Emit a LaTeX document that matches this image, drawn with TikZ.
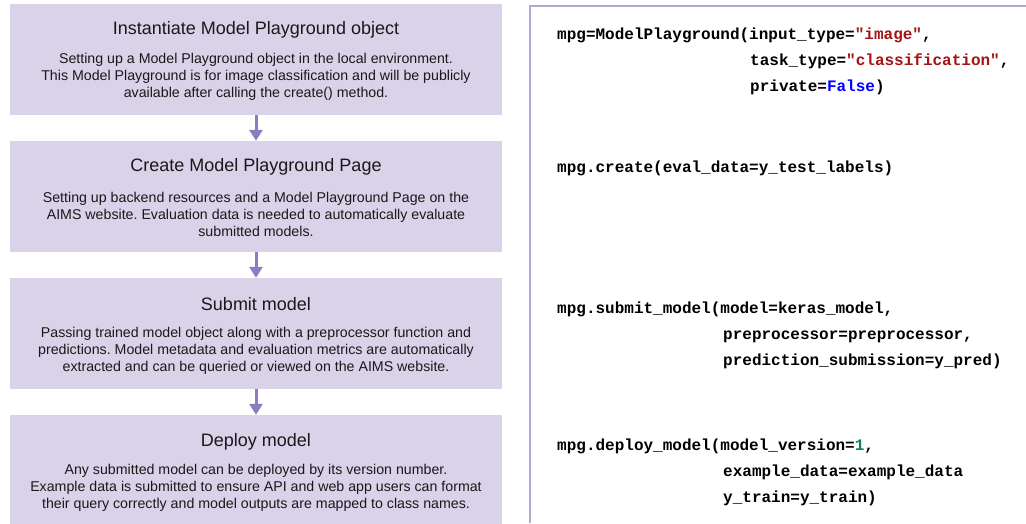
\documentclass[tikz,border=0pt]{standalone}
\usepackage{fontspec}
\setmainfont{Liberation Sans}
\setmonofont{Liberation Mono}
\usetikzlibrary{arrows.meta}
\definecolor{boxfill}{HTML}{D9D2E9}
\definecolor{arrowc}{HTML}{8E7CC3}
\definecolor{panelc}{HTML}{B4A7D6}
\definecolor{strc}{HTML}{A31515}
\definecolor{kwc}{HTML}{0000FF}
\definecolor{numc}{HTML}{098658}
\tikzset{
  stepbox/.style={fill=boxfill, draw=none, minimum width=492pt, minimum height=111pt, inner sep=0pt},
  titletext/.style={font=\fontsize{18pt}{21pt}\selectfont, text=black!90, inner sep=0pt},
  bodytext/.style={font=\fontsize{14.2pt}{17pt}\selectfont\frenchspacing, text=black!90, align=center, inner sep=0pt},
  flow/.style={arrowc, line width=3pt, -{Triangle[length=11pt,width=13pt]}, shorten >=0pt},
  code/.style={font=\fontsize{16pt}{20pt}\selectfont\ttfamily\bfseries, anchor=base west, inner sep=0pt},
  panel/.style={panelc, line width=2pt}
}
\newcommand{\us}{\_}
\frenchspacing
\begin{document}
\begin{tikzpicture}[x=1pt,y=-1pt]
\useasboundingbox (0,0) rectangle (1026,523);
\fill[white] (0,0) rectangle (1026,523);
% boxes
\node[stepbox] (b1) at (256,59.5) {};
\node[stepbox] (b2) at (256,196.5) {};
\node[stepbox] (b3) at (256,333.5) {};
\node[stepbox] (b4) at (256,470.5) {};
% titles
\node[titletext] (t1) at (256,30) {Instantiate Model Playground object};
\node[bodytext] (d1) at (256,77) {Setting up a Model Playground object in the local environment.\\This Model Playground is for image classification and will be publicly\\available after calling the create() method.};
\node[titletext] (t2) at (256,167) {Create Model Playground Page};
\node[bodytext] (d2) at (256,214) {Setting up backend resources and a Model Playground Page on the\\AIMS website. Evaluation data is needed to automatically evaluate\\submitted models.};
\node[titletext] (t3) at (256,304) {Submit model};
\node[bodytext] (d3) at (256,351) {Passing trained model object along with a preprocessor function and\\predictions. Model metadata and evaluation metrics are automatically\\extracted and can be queried or viewed on the AIMS website.};
\node[titletext] (t4) at (256,442) {Deploy model};
\node[bodytext] (d4) at (256,488) {Any submitted model can be deployed by its version number.\\Example data is submitted to ensure API and web app users can format\\their query correctly and model outputs are mapped to class names.};
% arrows
\draw[flow] (b1.south) -- (b2.north);
\draw[flow] (b2.south) -- (b3.north);
\draw[flow] (b3.south) -- (b4.north);
% right panel
\coordinate (pc) at (530,6);
\coordinate (pb) at (530,523);
\coordinate (pr) at (1026,6);
\draw[panel] (pb) -- (pc) -- (pr);
% code
\node[code] (c1a) at (557,39) {mpg=ModelPlayground(input\us type=\textcolor{strc}{"image"},};
\node[code] (c1b) at (750,65) {task\us type=\textcolor{strc}{"classification"},};
\node[code] (c1c) at (750,91) {private=\textcolor{kwc}{False})};
\node[code] (c2a) at (557,172) {mpg.create(eval\us data=y\us test\us labels)};
\node[code] (c3a) at (557,313) {mpg.submit\us model(model=keras\us model,};
\node[code] (c3b) at (723,339) {preprocessor=preprocessor,};
\node[code] (c3c) at (723,365) {prediction\us submission=y\us pred)};
\node[code] (c4a) at (557,450) {mpg.deploy\us model(model\us version=\textcolor{numc}{1},};
\node[code] (c4b) at (723,476) {example\us data=example\us data};
\node[code] (c4c) at (723,502) {y\us train=y\us train)};
\end{tikzpicture}
\end{document}
